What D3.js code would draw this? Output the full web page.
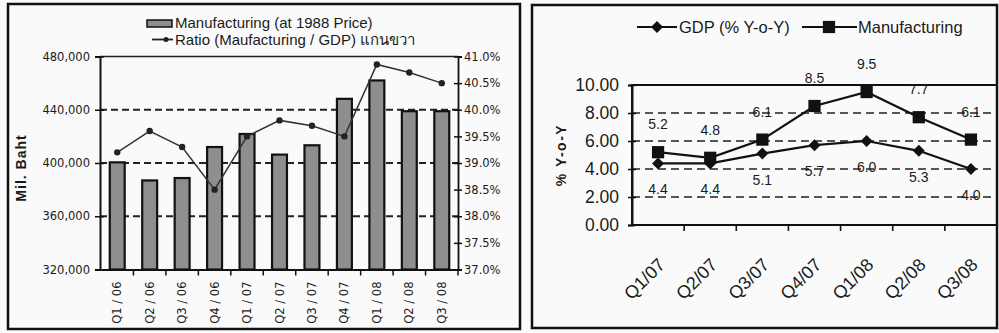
<!DOCTYPE html>
<html>
<head>
<meta charset="utf-8">
<script src="https://cdn.jsdelivr.net/npm/d3@7/dist/d3.min.js"></script>
<style>
  body { margin: 0; background: #fafafa; }
  svg { display: block; }
  text { fill: #1a1a1a; }
</style>
</head>
<body>
<svg id="chart" width="999" height="333"></svg>
<script>
// ---- Left panel: manufacturing output (bars) and its share of GDP (line, right axis)
const quarters = ["Q1 / 06", "Q2 / 06", "Q3 / 06", "Q4 / 06", "Q1 / 07", "Q2 / 07",
                  "Q3 / 07", "Q4 / 07", "Q1 / 08", "Q2 / 08", "Q3 / 08"];
const mfgOutput = [400500, 386900, 388700, 412000, 421800, 406300,
                   413300, 448200, 462000, 438900, 438900];
const mfgShare = [39.2, 39.6, 39.3, 38.5, 39.5, 39.8, 39.7, 39.5, 40.85, 40.7, 40.5];
const outputTicks = [320000, 360000, 400000, 440000, 480000];
const outputGrid = [360000, 400000, 440000];
const shareTicks = [37.0, 37.5, 38.0, 38.5, 39.0, 39.5, 40.0, 40.5, 41.0];
const leftLegend = ["Manufacturing (at 1988 Price)", "Ratio (Maufacturing / GDP) แกนขวา"];

// ---- Right panel: year-on-year growth
const growthQuarters = ["Q1/07", "Q2/07", "Q3/07", "Q4/07", "Q1/08", "Q2/08", "Q3/08"];
const gdpGrowth = [4.4, 4.4, 5.1, 5.7, 6.0, 5.3, 4.0];
const mfgGrowth = [5.2, 4.8, 6.1, 8.5, 9.5, 7.7, 6.1];
const growthTicks = [0, 2, 4, 6, 8, 10];
const growthGrid = [2, 4, 6, 8];
const rightLegend = ["GDP (% Y-o-Y)", "Manufacturing"];

const svg = d3.select("#chart");
const FONT = "'Liberation Sans', Arial, 'Noto Sans', sans-serif";
const WIDE = "'DejaVu Sans', Verdana, sans-serif";

// panel frames
svg.append("rect").attr("x", 8).attr("y", 4).attr("width", 512).attr("height", 325)
  .attr("fill", "none").attr("stroke", "#111").attr("stroke-width", 2.5);
svg.append("rect").attr("x", 532).attr("y", 5).attr("width", 465).attr("height", 323)
  .attr("fill", "none").attr("stroke", "#111").attr("stroke-width", 2.5);

// ================= LEFT PANEL =================
const L = { left: 100, right: 458, top: 56.5, bottom: 269.5 };
const xL = d3.scaleBand().domain(quarters).range([L.left + 1, L.right]);
const yL = d3.scaleLinear().domain([320000, 480000]).range([L.bottom, L.top]);
const yS = d3.scaleLinear().domain([37, 41]).range([L.bottom, L.top]);

const gl = svg.append("g");

// dashed gridlines
gl.selectAll("line.grid").data(outputGrid).join("line")
  .attr("class", "grid")
  .attr("x1", L.left).attr("x2", L.right)
  .attr("y1", d => yL(d)).attr("y2", d => yL(d))
  .attr("stroke", "#222").attr("stroke-width", 1.8).attr("stroke-dasharray", "7,4");

// plot frame (top edge)
gl.append("line").attr("x1", L.left).attr("x2", L.right).attr("y1", L.top).attr("y2", L.top)
  .attr("stroke", "#222").attr("stroke-width", 1.5);

// bars
const barW = xL.bandwidth() * 0.46;
gl.selectAll("rect.bar").data(quarters).join("rect")
  .attr("class", "bar")
  .attr("x", d => xL(d) + xL.bandwidth() / 2 - barW / 2)
  .attr("width", barW)
  .attr("y", (d, i) => yL(mfgOutput[i]))
  .attr("height", (d, i) => yL.range()[0] - yL(mfgOutput[i]))
  .attr("fill", "#8e8e8e").attr("stroke", "#111").attr("stroke-width", 2.2);

// share line
const shareLine = d3.line()
  .x((d, i) => xL(quarters[i]) + xL.bandwidth() / 2)
  .y(d => yS(d));
gl.append("path").datum(mfgShare).attr("d", shareLine)
  .attr("fill", "none").attr("stroke", "#333").attr("stroke-width", 1.5);
gl.selectAll("circle.pt").data(mfgShare).join("circle")
  .attr("class", "pt")
  .attr("cx", (d, i) => xL(quarters[i]) + xL.bandwidth() / 2)
  .attr("cy", d => yS(d)).attr("r", 3.2).attr("fill", "#222");

// left axis
const axL = gl.append("g").attr("transform", `translate(${L.left},0)`)
  .call(d3.axisLeft(yL).tickValues(outputTicks).tickFormat(d3.format(",")).tickSize(5).tickPadding(5));
axL.select(".domain").attr("stroke", "#111").attr("stroke-width", 2);
axL.selectAll(".tick line").attr("x1", 4).attr("stroke", "#111").attr("stroke-width", 1.5);
axL.selectAll("text").style("font-family", WIDE).style("font-size", "11.5px").attr("fill", "#222");

// right axis
const axR = gl.append("g").attr("transform", `translate(${L.right},0)`)
  .call(d3.axisRight(yS).tickValues(shareTicks).tickFormat(d => d.toFixed(1) + "%").tickSize(4).tickPadding(2));
axR.select(".domain").attr("stroke", "#111").attr("stroke-width", 1.8);
axR.selectAll(".tick line").attr("x1", -4).attr("stroke", "#111").attr("stroke-width", 1.5);
axR.selectAll("text").style("font-family", WIDE).style("font-size", "11.5px").attr("fill", "#222");

// bottom axis: boundary ticks, vertical labels
const axB = gl.append("g").attr("transform", `translate(0,${L.bottom})`)
  .call(d3.axisBottom(xL).tickSize(0));
axB.select(".domain").attr("stroke", "#111").attr("stroke-width", 2);
axB.selectAll("text")
  .attr("transform", "rotate(-90)")
  .attr("x", -12).attr("y", 0).attr("dy", "0.35em")
  .attr("text-anchor", "end")
  .style("font-family", WIDE).style("font-size", "11.5px").attr("fill", "#222");
gl.selectAll("line.btick").data(quarters.slice(1).map(q => xL(q)).concat([L.right])).join("line")
  .attr("class", "btick")
  .attr("x1", d => d).attr("x2", d => d)
  .attr("y1", L.bottom).attr("y2", L.bottom + 6)
  .attr("stroke", "#111").attr("stroke-width", 1.5);

// axis title
svg.append("text").attr("transform", "translate(26,168) rotate(-90)")
  .attr("text-anchor", "middle")
  .style("font-family", FONT).style("font-size", "14px").style("font-weight", "bold")
  .style("letter-spacing", "1px").text("Mil. Baht");

// legend
svg.append("rect").attr("x", 147).attr("y", 20).attr("width", 25).attr("height", 7)
  .attr("fill", "#8e8e8e").attr("stroke", "#111").attr("stroke-width", 1.5);
svg.append("text").attr("x", 175).attr("y", 28)
  .style("font-family", FONT).style("font-size", "15px").text(leftLegend[0]);
svg.append("line").attr("x1", 152).attr("x2", 173).attr("y1", 39.5).attr("y2", 39.5)
  .attr("stroke", "#222").attr("stroke-width", 1.8);
svg.append("circle").attr("cx", 166).attr("cy", 39.5).attr("r", 2.5).attr("fill", "#222");
svg.append("text").attr("x", 175).attr("y", 45)
  .style("font-family", FONT).style("font-size", "15px").text(leftLegend[1]);

// ================= RIGHT PANEL =================
const R = { left: 632, right: 997, top: 85, bottom: 225 };
const xR = d3.scaleBand().domain(growthQuarters).range([R.left, R.right]);
const yG = d3.scaleLinear().domain([0, 10]).range([R.bottom, R.top]);
const cx = q => xR(q) + xR.bandwidth() / 2;

const gr = svg.append("g");

gr.selectAll("line.grid").data(growthGrid).join("line")
  .attr("class", "grid")
  .attr("x1", R.left).attr("x2", R.right)
  .attr("y1", d => yG(d)).attr("y2", d => yG(d))
  .attr("stroke", "#222").attr("stroke-width", 1.6).attr("stroke-dasharray", "8,5");

gr.append("rect").attr("x", R.left).attr("y", R.top)
  .attr("width", R.right - R.left).attr("height", R.bottom - R.top)
  .attr("fill", "none").attr("stroke", "#111").attr("stroke-width", 2);

// y axis
const axG = gr.append("g").attr("transform", `translate(${R.left},0)`)
  .call(d3.axisLeft(yG).tickValues(growthTicks).tickFormat(d3.format(".2f")).tickSize(4).tickPadding(9));
axG.select(".domain").attr("stroke", "#111").attr("stroke-width", 2);
axG.selectAll(".tick line").attr("x1", 4).attr("stroke", "#111").attr("stroke-width", 1.5);
axG.selectAll("text").style("font-family", FONT).style("font-size", "17.5px").attr("fill", "#111");

// x axis
const axX = gr.append("g").attr("transform", `translate(0,${R.bottom})`)
  .call(d3.axisBottom(xR).tickSize(0));
axX.select(".domain").remove();
axX.selectAll("text")
  .attr("x", 0).attr("y", 0).attr("dy", 0)
  .attr("transform", "translate(8,41) rotate(-45)")
  .attr("text-anchor", "end")
  .style("font-family", FONT).style("font-size", "18px").attr("fill", "#111");
gr.selectAll("line.btick").data(growthQuarters.map(q => xR(q)).slice(1).concat([R.right])).join("line")
  .attr("class", "btick")
  .attr("x1", d => d).attr("x2", d => d)
  .attr("y1", R.bottom).attr("y2", R.bottom + 6)
  .attr("stroke", "#111").attr("stroke-width", 1.6);

// series lines
const gLine = d3.line().x((d, i) => cx(growthQuarters[i])).y(d => yG(d));
gr.append("path").datum(mfgGrowth).attr("d", gLine)
  .attr("fill", "none").attr("stroke", "#111").attr("stroke-width", 2.2);
gr.append("path").datum(gdpGrowth).attr("d", gLine)
  .attr("fill", "none").attr("stroke", "#111").attr("stroke-width", 2.2);

const square = d3.symbol(d3.symbolSquare, 150);
const diamond = d3.symbol(d3.symbolSquare, 72);
gr.selectAll("path.sq").data(mfgGrowth).join("path")
  .attr("class", "sq").attr("d", square)
  .attr("transform", (d, i) => `translate(${cx(growthQuarters[i])},${yG(d)})`)
  .attr("fill", "#111");
gr.selectAll("path.dm").data(gdpGrowth).join("path")
  .attr("class", "dm").attr("d", diamond)
  .attr("transform", (d, i) => `translate(${cx(growthQuarters[i])},${yG(d)}) rotate(45)`)
  .attr("fill", "#111");

// data labels
gr.selectAll("text.lm").data(mfgGrowth).join("text")
  .attr("class", "lm")
  .attr("x", (d, i) => cx(growthQuarters[i])).attr("y", d => yG(d) - 23)
  .attr("text-anchor", "middle")
  .style("font-family", FONT).style("font-size", "14px").attr("fill", "#222")
  .text(d => d.toFixed(1));
gr.selectAll("text.lg").data(gdpGrowth).join("text")
  .attr("class", "lg")
  .attr("x", (d, i) => cx(growthQuarters[i])).attr("y", d => yG(d) + 31)
  .attr("text-anchor", "middle")
  .style("font-family", FONT).style("font-size", "14px").attr("fill", "#222")
  .text(d => d.toFixed(1));

// axis title
svg.append("text").attr("transform", "translate(566,155) rotate(-90)")
  .attr("text-anchor", "middle")
  .style("font-family", FONT).style("font-size", "14px").style("font-weight", "bold")
  .style("letter-spacing", "1.5px").text("% Y-o-Y");

// legend
svg.append("line").attr("x1", 637).attr("x2", 677).attr("y1", 27).attr("y2", 27)
  .attr("stroke", "#111").attr("stroke-width", 2.2);
svg.append("path").attr("d", diamond).attr("transform", "translate(657,27) rotate(45)").attr("fill", "#111");
svg.append("text").attr("x", 679).attr("y", 33)
  .style("font-family", FONT).style("font-size", "16.5px").text(rightLegend[0]);
svg.append("line").attr("x1", 802).attr("x2", 857).attr("y1", 27).attr("y2", 27)
  .attr("stroke", "#111").attr("stroke-width", 2.2);
svg.append("path").attr("d", square).attr("transform", "translate(829,27)").attr("fill", "#111");
svg.append("text").attr("x", 858).attr("y", 33)
  .style("font-family", FONT).style("font-size", "16.5px").text(rightLegend[1]);
</script>
</body>
</html>
